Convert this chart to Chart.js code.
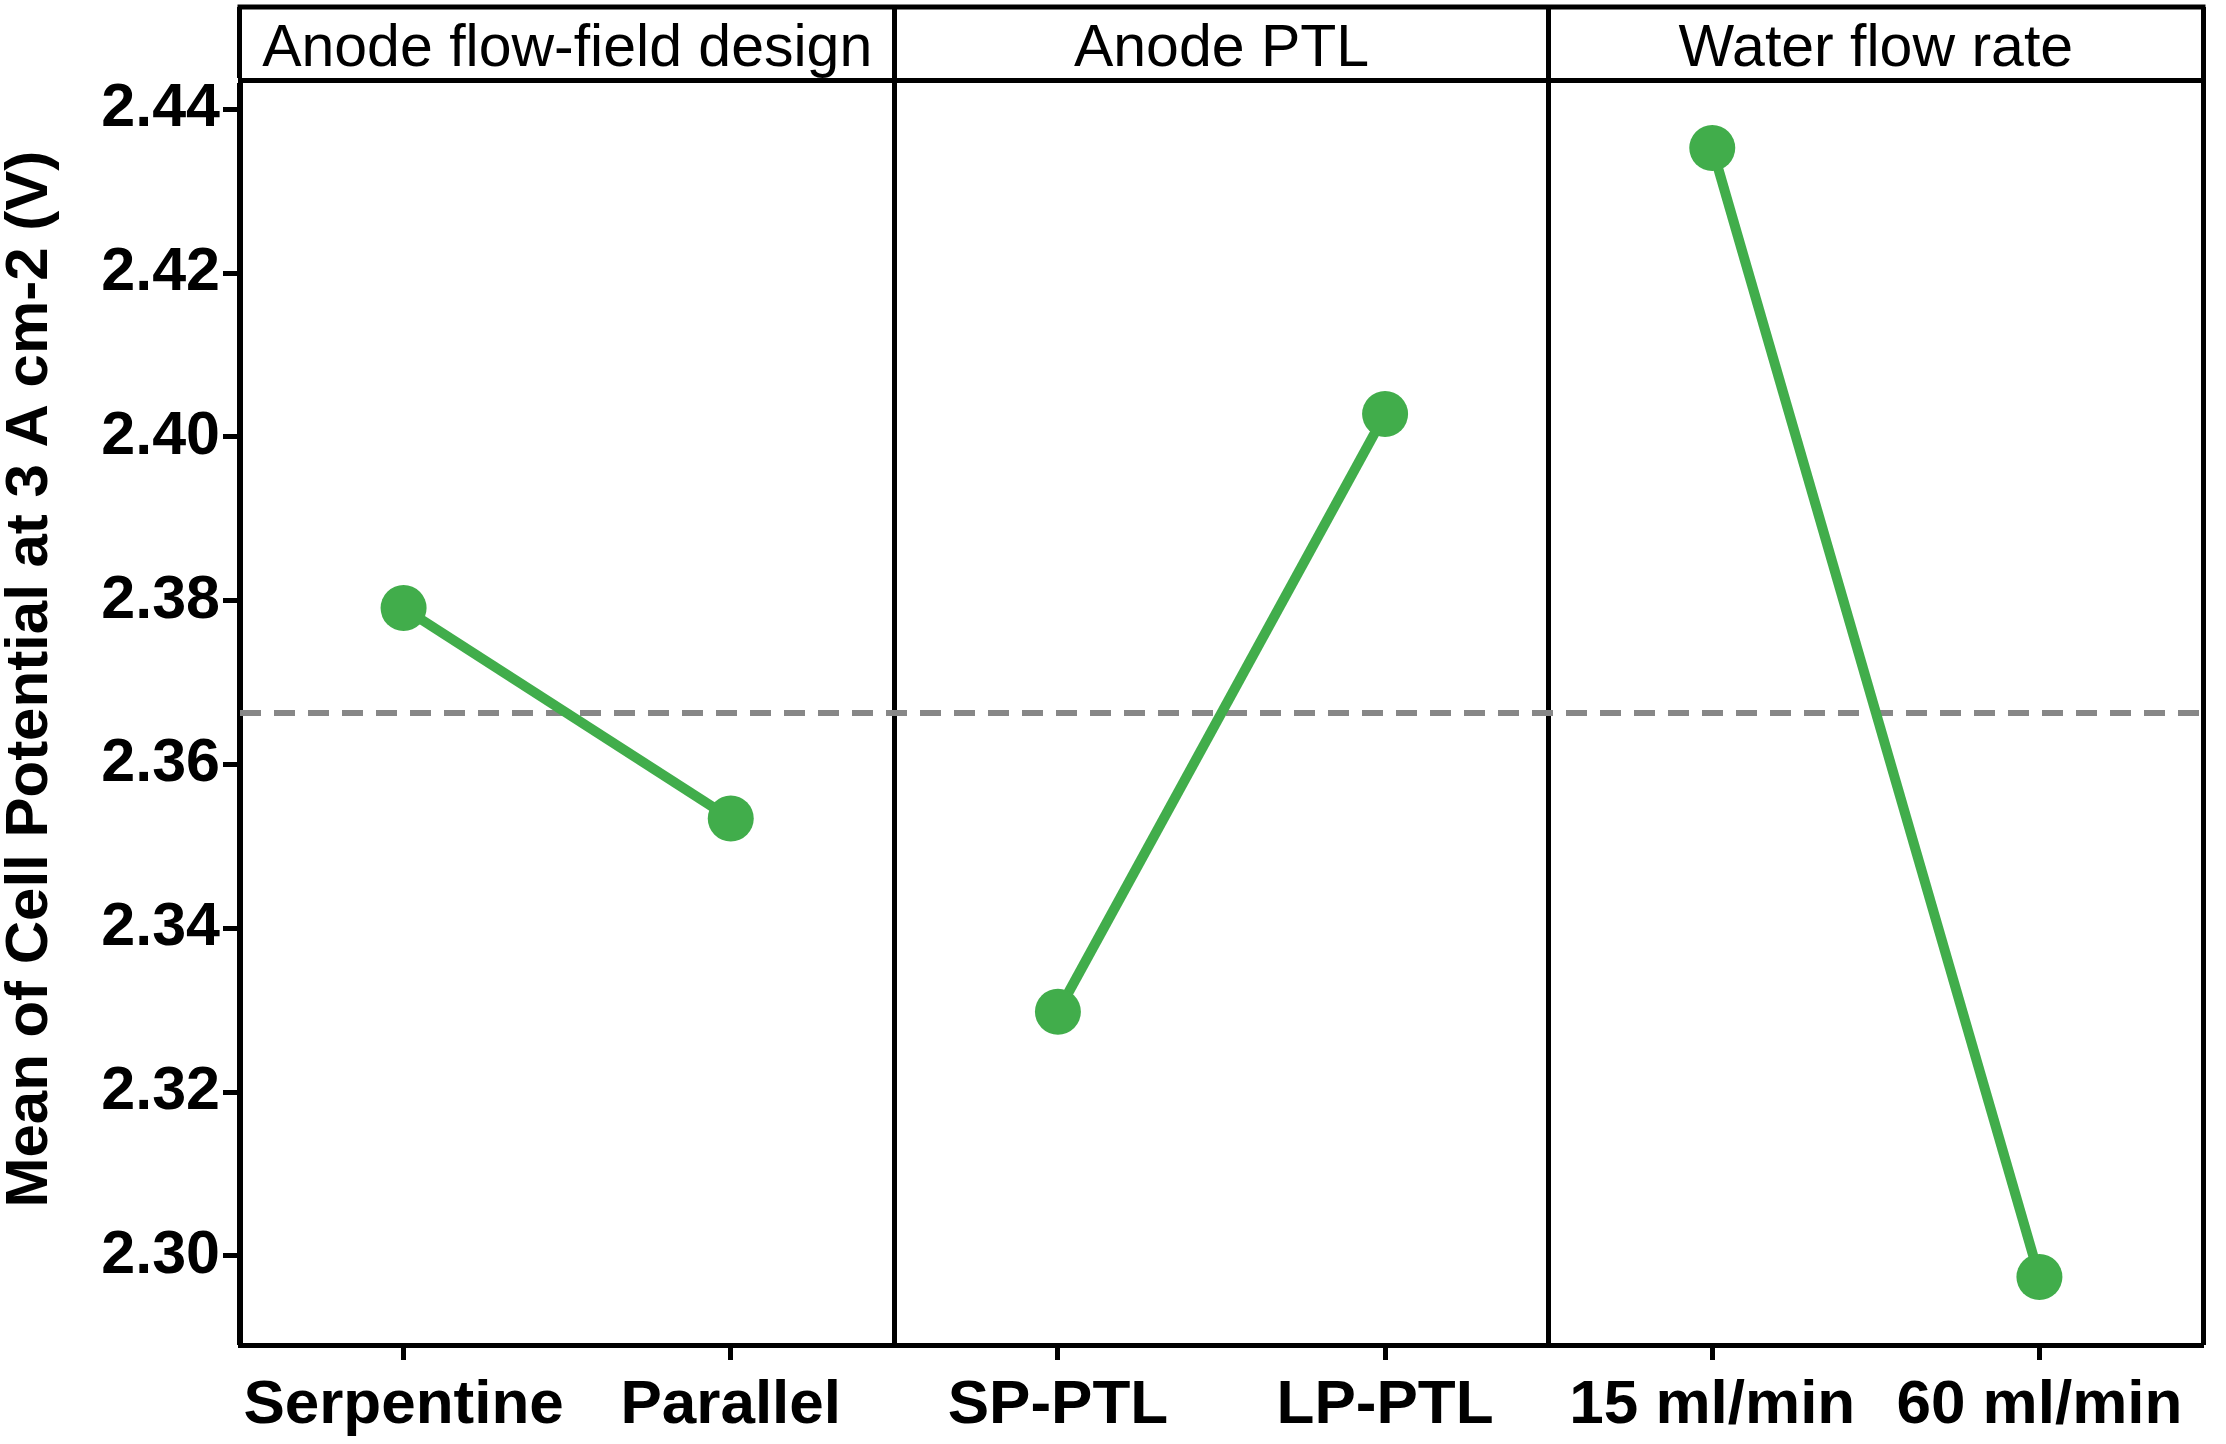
<!DOCTYPE html>
<html>
<head>
<meta charset="utf-8">
<script src="https://cdn.jsdelivr.net/npm/chart.js@4.4.1/dist/chart.umd.min.js"></script>
<style>
  html, body { margin: 0; padding: 0; background: #ffffff; overflow: hidden; }
  canvas { display: block; }
</style>
</head>
<body>
<canvas id="c" width="2226" height="1444" style="width:2226px;height:1444px"></canvas>
<script>
// ---- data ----
const categories = ['Serpentine', 'Parallel', 'SP-PTL', 'LP-PTL', '15 ml/min', '60 ml/min'];
const facets = ['Anode flow-field design', 'Anode PTL', 'Water flow rate'];
const flowFieldMeans = [2.3791, 2.3534];   // Serpentine, Parallel
const ptlMeans = [2.3298, 2.4028];         // SP-PTL, LP-PTL
const waterFlowMeans = [2.4353, 2.2974];   // 15 ml/min, 60 ml/min
const grandMean = 2.3663;
const yTickValues = [2.30, 2.32, 2.34, 2.36, 2.38, 2.40, 2.42, 2.44];
const yTitle = 'Mean of Cell Potential at 3 A cm-2 (V)';

// ---- build datasets: each factor occupies two consecutive categories ----
function padSeries(values, startIndex) {
  const arr = categories.map(() => null);
  values.forEach((v, i) => { arr[startIndex + i] = v; });
  return arr;
}

const GREEN = '#41ad4b';
const FONT = "'Liberation Sans', Arial, Helvetica, sans-serif";

function factorDataset(values, startIndex) {
  return {
    type: 'line',
    data: padSeries(values, startIndex),
    xAxisID: 'x',
    yAxisID: 'y',
    borderColor: GREEN,
    backgroundColor: GREEN,
    borderWidth: 10,
    pointRadius: 23,
    pointHoverRadius: 23,
    pointBackgroundColor: GREEN,
    pointBorderWidth: 0,
    spanGaps: false,
    fill: false,
    order: 1
  };
}

// top edge of the facet strip, taken from the x2 scale's box
const stripTopLine = {
  id: 'stripTopLine',
  afterDraw(chart) {
    const s = chart.scales.x2;
    const ctx = chart.ctx;
    ctx.save();
    ctx.strokeStyle = '#000';
    ctx.lineWidth = 5;
    ctx.beginPath();
    ctx.moveTo(chart.chartArea.left - 2.5, s.top + 2);
    ctx.lineTo(chart.chartArea.right + 2.5, s.top + 2);
    ctx.stroke();
    ctx.restore();
  }
};

function noSidePadding(scale) {
  scale.paddingLeft = 0;
  scale.paddingRight = 0;
}

new Chart(document.getElementById('c'), {
  type: 'line',
  data: {
    labels: categories,
    datasets: [
      factorDataset(flowFieldMeans, 0),
      factorDataset(ptlMeans, 2),
      factorDataset(waterFlowMeans, 4),
      {
        type: 'line',
        data: [{ x: 0, y: grandMean }, { x: 1, y: grandMean }],
        xAxisID: 'xl',
        yAxisID: 'y',
        borderColor: '#878787',
        borderWidth: 6,
        borderDash: [21, 13],
        pointRadius: 0,
        fill: false,
        order: 10
      }
    ]
  },
  plugins: [stripTopLine],
  options: {
    responsive: false,
    maintainAspectRatio: false,
    devicePixelRatio: 1,
    animation: false,
    events: [],
    layout: { padding: { top: 5, right: 13, bottom: 0, left: 0 } },
    plugins: { legend: { display: false }, tooltip: { enabled: false }, title: { display: false } },
    scales: {
      x: {
        type: 'category',
        position: 'bottom',
        offset: true,
        grid: {
          offset: false,
          drawOnChartArea: false,
          drawTicks: true,
          tickLength: 15,
          tickWidth: 5,
          tickColor: '#000'
        },
        border: { display: true, color: '#000', width: 5 },
        ticks: {
          color: '#000',
          padding: 9,
          maxRotation: 0,
          autoSkip: false,
          font: { family: FONT, size: 62, weight: 'bold', lineHeight: 1.2 }
        },
        afterFit(scale) { scale.height = 99; noSidePadding(scale); }
      },
      x2: {
        type: 'category',
        position: 'top',
        labels: facets,
        offset: true,
        grid: {
          offset: true,
          drawOnChartArea: true,
          drawTicks: true,
          tickLength: 73,
          lineWidth: 5,
          tickWidth: 5,
          color: '#000',
          tickColor: '#000'
        },
        border: { display: true, color: '#000', width: 5 },
        ticks: {
          color: '#000',
          padding: -72,
          maxRotation: 0,
          autoSkip: false,
          font: { family: FONT, size: 59, weight: 'normal', lineHeight: 1 }
        },
        afterFit(scale) { scale.height = 75; noSidePadding(scale); }
      },
      xl: {
        type: 'linear',
        display: false,
        min: 0,
        max: 1,
        afterFit(scale) { noSidePadding(scale); }
      },
      y: {
        type: 'linear',
        position: 'left',
        min: 2.2891,
        max: 2.4436,
        afterBuildTicks(scale) {
          scale.ticks = yTickValues.map(v => ({ value: v }));
        },
        grid: {
          drawOnChartArea: false,
          drawTicks: true,
          tickLength: 17,
          tickWidth: 5,
          tickColor: '#000'
        },
        border: { display: true, color: '#000', width: 5 },
        ticks: {
          color: '#000',
          padding: 3,
          font: { family: FONT, size: 61, weight: 'bold' },
          callback: (v) => Number(v).toFixed(2)
        },
        title: {
          display: true,
          text: '\u00A0\u00A0\u00A0\u00A0' + yTitle,
          color: '#000',
          padding: { top: 0, bottom: 0 },
          font: { family: FONT, size: 60, weight: 'bold', lineHeight: 1 }
        },
        afterFit(scale) { scale.width = 240; }
      }
    }
  }
});
</script>
</body>
</html>
